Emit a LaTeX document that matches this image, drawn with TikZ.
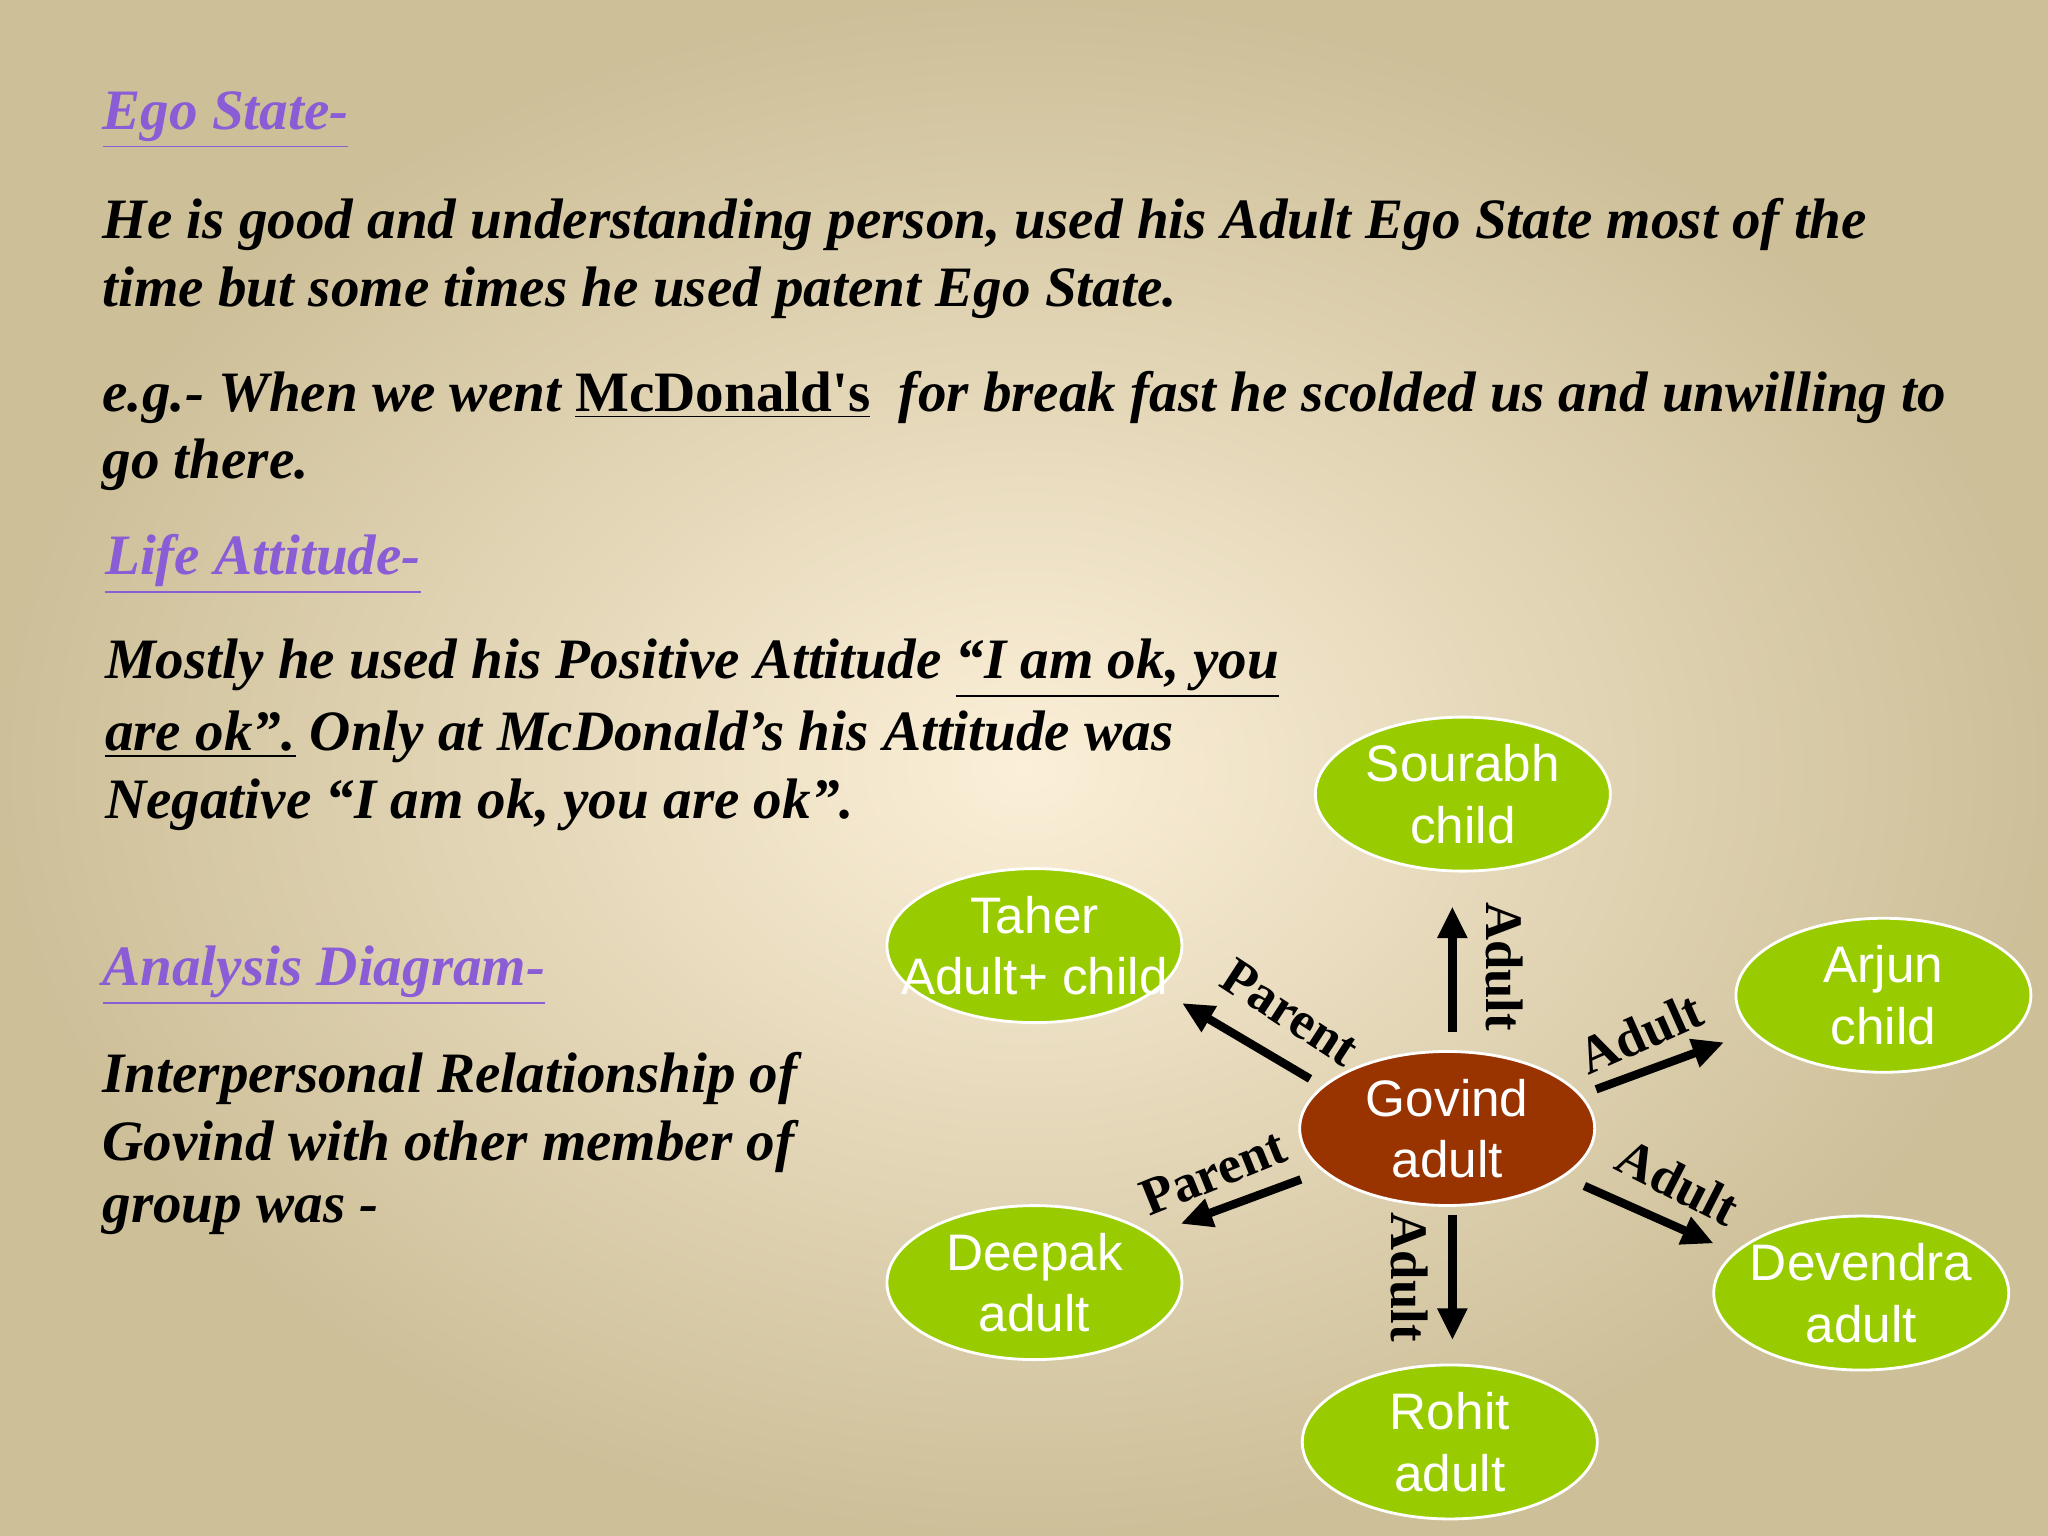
\documentclass[tikz,border=0pt]{standalone}
\usepackage{fontspec}
\setmainfont{Liberation Serif}
\newfontfamily\ellfont{Liberation Sans}
\usetikzlibrary{shapes.geometric,arrows.meta}
\definecolor{bgout}{HTML}{CDBF98}
\definecolor{bgin}{HTML}{FBEFD8}
\definecolor{headc}{HTML}{8A5CD6}
\definecolor{ellg}{HTML}{99CC00}
\definecolor{ellb}{HTML}{993300}
\begin{document}
\begin{tikzpicture}[x=0.013061cm,y=-0.013061cm,
 txt/.style={anchor=west,inner sep=0pt,font=\fontsize{16.25}{19}\selectfont\bfseries\itshape},
 head/.style={txt,text=headc},
 ell/.style={ellipse,draw=white,line width=0.8pt,fill=ellg,minimum width=2.95cm,minimum height=1.54cm,inner xsep=-14pt,inner ysep=0pt,text=white,align=center,font=\ellfont\fontsize{14.6}{17.5}\selectfont},
 arr/.style={-{Triangle[length=9pt,width=8pt]},line width=2.4pt},
 lab/.style={font=\fontsize{15}{17}\selectfont\bfseries,inner sep=0pt}]
\shade[inner color=bgin,outer color=bgout] (0,0) rectangle (1568,1176);
\useasboundingbox (0,0) rectangle (1568,1176);
\node[head] (h1) at (78,92) {\underline{Ego State-}};
\node[txt] (t1) at (78,172) {He is good and understanding person, used his Adult Ego State most of the};
\node[txt] (t2) at (78,224) {time but some times he used patent Ego State.};
\node[txt] (t3) at (78,304) {e.g.- When we went {\upshape\underline{McDonald\textquotesingle s}}\ \ for break fast he scolded us and unwilling to};
\node[txt] (t4) at (78,356) {go there.};
\node[head] (h2) at (80,432) {\underline{Life Attitude-}};
\node[txt] (t5) at (80,512) {Mostly he used his Positive Attitude \underline{“I am ok, you}};
\node[txt] (t6) at (80,564) {\underline{are ok”.} Only at McDonald’s his Attitude was};
\node[txt] (t7) at (80,616) {Negative “I am ok, you are ok”.};
\node[head] (h3) at (78,747) {\underline{Analysis Diagram-}};
\node[txt] (t8) at (78,826) {Interpersonal Relationship of};
\node[txt] (t9) at (78,878) {Govind with other member of};
\node[txt] (t10) at (78,930) {group was -};

\node[ell] (sou) at (1120,608) {Sourabh\\child};
\node[ell] (tah) at (792,724) {Taher\\Adult+ child};
\node[ell] (arj) at (1442,762) {Arjun\\child};
\node[ell,fill=ellb] (gov) at (1108,864) {Govind\\adult};
\node[ell] (dee) at (792,982) {Deepak\\adult};
\node[ell] (dev) at (1425,990) {Devendra\\adult};
\node[ell] (roh) at (1110,1104) {Rohit\\adult};

\coordinate (a1s) at (1112,790); \coordinate (a1e) at (1112,694);
\coordinate (a2s) at (1003,826); \coordinate (a2e) at (905,768);
\coordinate (a3s) at (1222,834); \coordinate (a3e) at (1320,798);
\coordinate (a4s) at (996,903); \coordinate (a4e) at (904,937);
\coordinate (a5s) at (1213,908); \coordinate (a5e) at (1312,952);
\coordinate (a6s) at (1112,930); \coordinate (a6e) at (1112,1026);
\draw[arr] (a1s) -- (a1e);
\draw[arr] (a2s) -- (a2e);
\draw[arr] (a3s) -- (a3e);
\draw[arr] (a4s) -- (a4e);
\draw[arr] (a5s) -- (a5e);
\draw[arr] (a6s) -- (a6e);
\node[lab,rotate=-90] (l1) at (1152,740) {Adult};
\node[lab,rotate=-33] (l2) at (988,775) {Parent};
\node[lab,rotate=24] (l3) at (1256,791) {Adult};
\node[lab,rotate=22] (l4) at (929,898) {Parent};
\node[lab,rotate=-27] (l5) at (1285,905) {Adult};
\node[lab,rotate=-90] (l6) at (1079,978) {Adult};
\end{tikzpicture}
\end{document}
